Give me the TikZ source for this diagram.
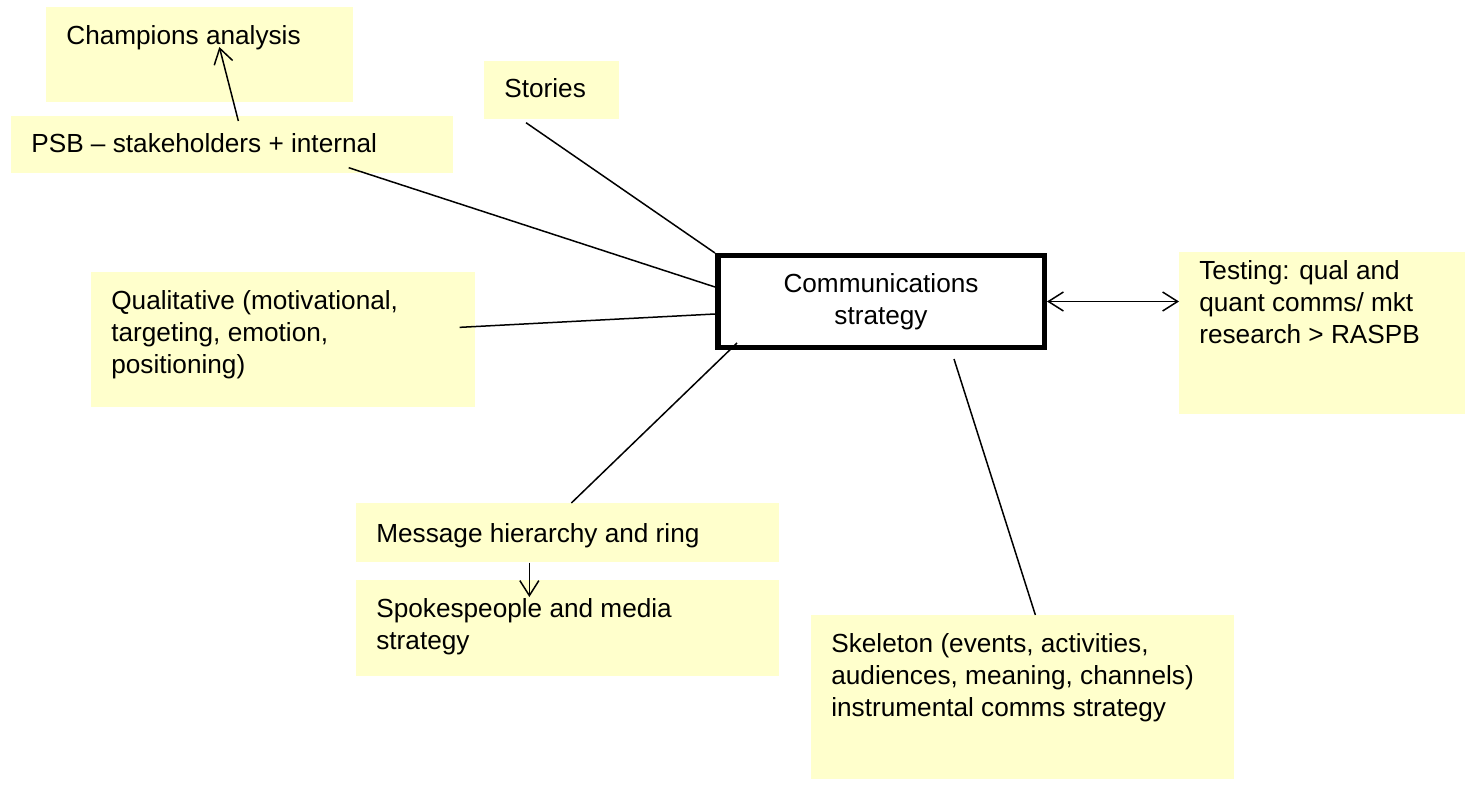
\documentclass[tikz,border=0pt]{standalone}
\usepackage{fontspec}
\setmainfont{Liberation Sans}
\usetikzlibrary{arrows.meta}
\definecolor{notefill}{HTML}{FFFFCC}
\newcommand{\notetext}[3]{\parbox[t][#2][t]{#1}{\raggedright #3}}

\begin{document}
\begin{tikzpicture}[x=0.2mm,y=-0.2mm]
\tikzset{
  note/.style={rectangle,fill=notefill,anchor=north west,inner xsep=4mm,font=\fontsize{14.9pt}{18.2pt}\selectfont},
  hub/.style={rectangle,draw,line width=1.1mm,fill=white,minimum width=65.3mm,minimum height=18.3mm,align=center,font=\fontsize{14.9pt}{18.2pt}\selectfont},
  link/.style={line width=0.3mm},
  directed/.style={-{Straight Barb[length=3mm,width=3.8mm]},line width=0.3mm},
  bothways/.style={{Straight Barb[length=3mm,width=3.8mm]}-{Straight Barb[length=3mm,width=3.8mm]},line width=0.3mm}
}
\useasboundingbox (0,0) rectangle (1470,785);
\node[note,inner ysep=3.6mm] (n_champ) at (46,7) {\notetext{53.4mm}{11.8mm}{Champions analysis}};
\node[note,inner ysep=3.4mm] (n_psb) at (11,116) {\notetext{80.4mm}{4.6mm}{PSB – stakeholders + internal}};
\node[note,inner ysep=3.4mm] (n_stories) at (484,61) {\notetext{19mm}{4.8mm}{Stories}};
\node[note,inner ysep=3.6mm] (n_qual) at (91,272) {\notetext{68.8mm}{19.8mm}{Qualitative (motivational,\\targeting, emotion,\\positioning)}};
\node[hub] (n_comms) at (881,301.5) {Communications\\strategy};
\node[note,inner ysep=1.6mm] (n_test) at (1179,252) {\notetext{49.2mm}{29.2mm}{Testing: qual and\\quant comms/ mkt\\research > RASPB}};
\node[note,inner ysep=4mm] (n_msg) at (356,503) {\notetext{76.6mm}{3.6mm}{Message hierarchy and ring}};
\node[note,inner ysep=3.6mm] (n_spokes) at (356,580) {\notetext{76.6mm}{12mm}{Spokespeople and media\\strategy}};
\node[note,inner ysep=3.6mm] (n_skel) at (811,615) {\notetext{76.6mm}{25.6mm}{Skeleton (events, activities,\\audiences, meaning, channels)\\instrumental comms strategy}};
\draw[link] ([xshift=8.4mm,yshift=-0.6mm]n_stories.south west) -- (n_comms.north west);
\draw[link] ([xshift=-21mm,yshift=1.2mm]n_psb.south east) -- ([yshift=2.9mm]n_comms.west);
\draw[link] ([xshift=-3.2mm,yshift=2.5mm]n_qual.east) -- ([yshift=-2.5mm]n_comms.west);
\draw[link] ([xshift=0.7mm]n_msg.north) -- ([xshift=4.4mm,yshift=1.4mm]n_comms.south west);
\draw[link] ([xshift=2.5mm]n_skel.north) -- ([xshift=14.6mm,yshift=-1.8mm]n_comms.south);
\draw[bothways] (n_comms.east) -- (n_comms.east -| n_test.west);
\draw[directed] ([xshift=1.2mm,yshift=-1mm]n_psb.north) -- ([xshift=3.9mm,yshift=-8mm]n_champ.north);
\draw[directed] ([xshift=-7.7mm]n_msg.south) -- ([xshift=-7.7mm,yshift=-3.4mm]n_spokes.north);
\end{tikzpicture}
\end{document}
